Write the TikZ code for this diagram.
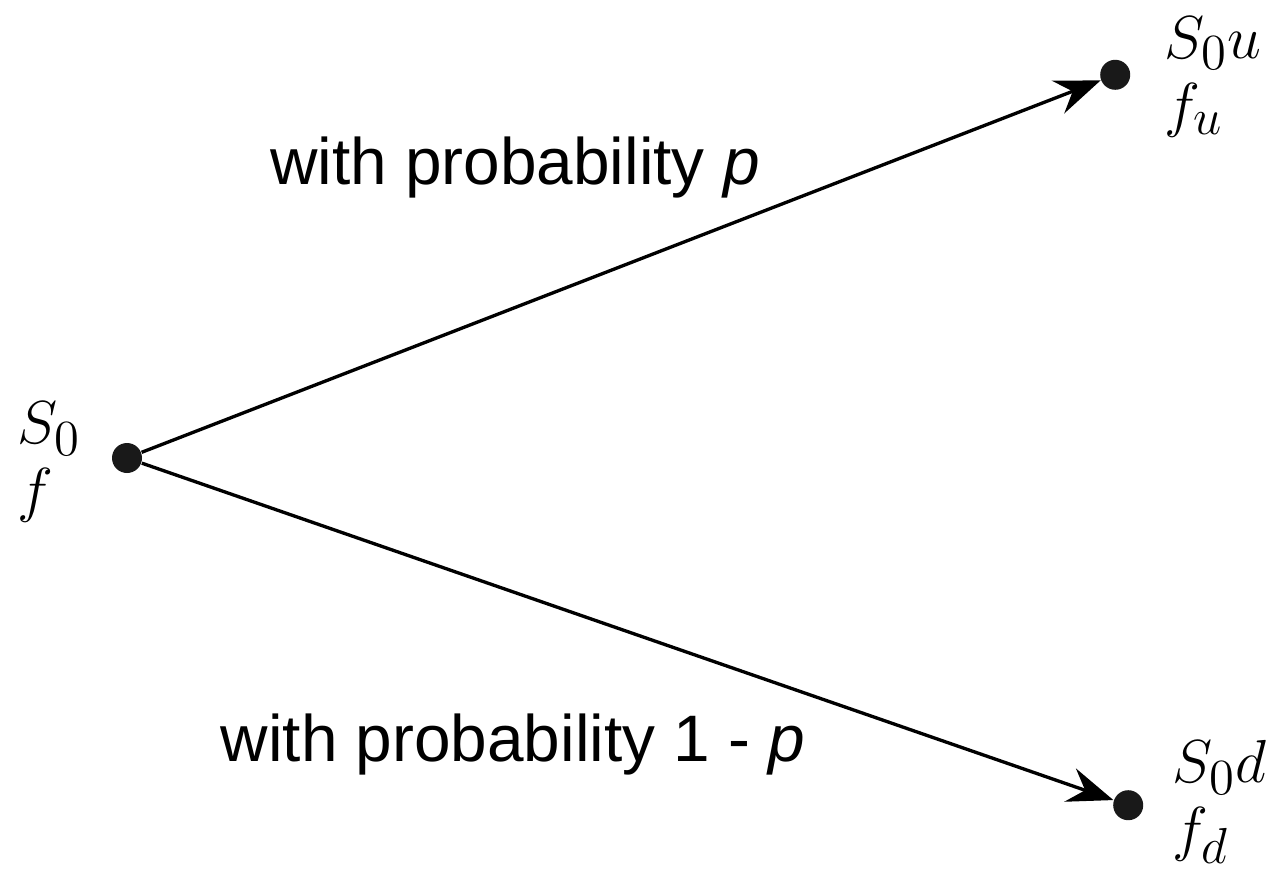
\documentclass[tikz,border=0pt]{standalone}
\usepackage{amsmath,amssymb}
\usepackage{fontspec}
\setsansfont{Liberation Sans}
\DeclareMathSizes{19}{19}{15}{12}
\usepackage{tikz}
\usetikzlibrary{arrows.meta, positioning}

\begin{document}
\begin{tikzpicture}[node distance=1.5cm, auto, >={Stealth[length=13pt,width=10pt,inset=4.5pt]}]
    % Styles
    \tikzstyle{state} = [circle, fill=black!90, inner sep=0pt, minimum size=0.3cm]
    \tikzstyle{value} = [align=left, inner sep=0pt, font=\fontsize{19}{19}\selectfont]
    \tikzstyle{prob} = [font=\sffamily\fontsize{18.7}{22}\selectfont, inner sep=0pt]
    \tikzstyle{line} = [draw, ->, line width=0.95pt]

    \useasboundingbox (0,0) rectangle (12.67,8.71);

    % Nodes
    \node [state] (root) at (1.27,4.13) {};
    \node [state, above right=3.61cm and 9.66cm of root] (up) {};
    \node [state, below right=3.25cm and 9.79cm of root] (down) {};
    \node [value, left=0.30cm of root, yshift=-0.04cm] (rootval) {$S_0$\\$f$};
    \node [value, right=0.33cm of up, yshift=-0.02cm] (upval) {$S_0u$\\$f_u$};
    \node [value, right=0.28cm of down, yshift=0.03cm] (downval) {$S_0d$\\$f_d$};
    \node [prob] (pup) at (5.15,7.03) {with probability \textit{p}};
    \node [prob] (pdown) at (5.13,1.26) {with probability 1 - \textit{p}};

    % Paths
    \path [line] (root) -- (up);
    \path [line] (root) -- (down);
\end{tikzpicture}
\end{document}
